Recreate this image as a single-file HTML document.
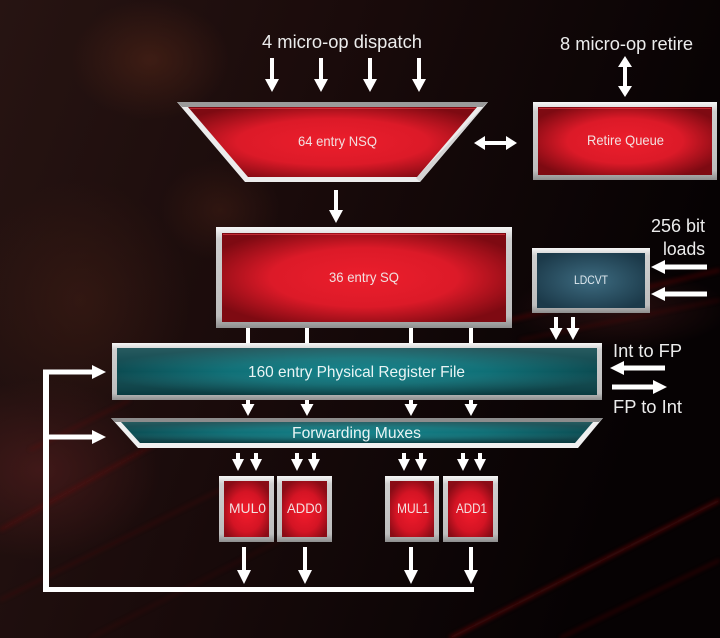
<!DOCTYPE html>
<html><head><meta charset="utf-8"><style>
html,body{margin:0;padding:0;background:#120808;}
svg{display:block;}
text{font-family:"Liberation Sans",sans-serif;}
</style></head><body>
<svg width="720" height="638" viewBox="0 0 720 638" xmlns="http://www.w3.org/2000/svg">
<defs>
<linearGradient id="bgL" x1="0" y1="0" x2="1" y2="0.3">
<stop offset="0" stop-color="#271412"/>
<stop offset="0.45" stop-color="#1a0b0b"/>
<stop offset="1" stop-color="#060203"/>
</linearGradient>
<radialGradient id="glow1" cx="0.5" cy="0.5" r="0.5">
<stop offset="0" stop-color="#4a2216" stop-opacity="0.7"/>
<stop offset="1" stop-color="#4a2216" stop-opacity="0"/>
</radialGradient>
<radialGradient id="glow2" cx="0.5" cy="0.5" r="0.5">
<stop offset="0" stop-color="#5a2020" stop-opacity="0.55"/>
<stop offset="1" stop-color="#5a2020" stop-opacity="0"/>
</radialGradient>
<filter id="blur2"><feGaussianBlur stdDeviation="2"/></filter>
<radialGradient id="red" cx="0.5" cy="0.5" r="0.6">
<stop offset="0" stop-color="#ec1e2c"/>
<stop offset="0.55" stop-color="#dc1a28"/>
<stop offset="1" stop-color="#7e0a12"/>
</radialGradient>
<radialGradient id="redU" cx="0.5" cy="0.55" r="0.6">
<stop offset="0" stop-color="#f21c2c"/>
<stop offset="0.6" stop-color="#d41424"/>
<stop offset="1" stop-color="#8a0c16"/>
</radialGradient>
<radialGradient id="teal" cx="0.5" cy="0.5" r="0.55">
<stop offset="0" stop-color="#13838b"/>
<stop offset="0.5" stop-color="#0f6f76"/>
<stop offset="1" stop-color="#0a444a"/>
</radialGradient>
<linearGradient id="tealV" x1="0" y1="0" x2="0" y2="1">
<stop offset="0" stop-color="#ffffff" stop-opacity="0.12"/>
<stop offset="0.5" stop-color="#ffffff" stop-opacity="0"/>
<stop offset="1" stop-color="#000000" stop-opacity="0.15"/>
</linearGradient>
<radialGradient id="blue" cx="0.5" cy="0.5" r="0.6">
<stop offset="0" stop-color="#3d6b80"/>
<stop offset="1" stop-color="#1c3a4a"/>
</radialGradient>
<linearGradient id="bevel" x1="0" y1="0" x2="0" y2="1">
<stop offset="0" stop-color="#f6f6f6"/>
<stop offset="0.12" stop-color="#cfcfcf"/>
<stop offset="0.88" stop-color="#bdbdbd"/>
<stop offset="1" stop-color="#8e8e8e"/>
</linearGradient>
</defs>

<!-- background -->
<rect width="720" height="638" fill="url(#bgL)"/>
<ellipse cx="150" cy="60" rx="80" ry="60" fill="url(#glow1)"/>
<ellipse cx="80" cy="300" rx="110" ry="120" fill="url(#glow1)" opacity="0.6"/>
<ellipse cx="40" cy="470" rx="120" ry="90" fill="url(#glow2)"/>
<ellipse cx="220" cy="210" rx="60" ry="50" fill="url(#glow1)" opacity="0.6"/>
<ellipse cx="620" cy="310" rx="110" ry="40" fill="url(#glow2)" opacity="0.7"/>
<g filter="url(#blur2)" stroke="#8a1010" fill="none">
<line x1="0" y1="530" x2="180" y2="430" stroke-width="3" opacity="0.35"/>
<line x1="0" y1="600" x2="240" y2="480" stroke-width="2" opacity="0.25"/>
<line x1="90" y1="638" x2="300" y2="530" stroke-width="2" opacity="0.18"/>
<line x1="450" y1="638" x2="720" y2="500" stroke-width="3" opacity="0.6"/>
<line x1="560" y1="638" x2="720" y2="560" stroke-width="2" opacity="0.4"/>
<line x1="510" y1="320" x2="720" y2="270" stroke-width="3" opacity="0.4"/>
<line x1="520" y1="340" x2="720" y2="300" stroke-width="2" opacity="0.3"/>
<line x1="30" y1="450" x2="130" y2="400" stroke-width="2" opacity="0.3"/>
</g>

<!-- top labels -->
<g fill="#ececec" font-size="18">
<text x="262" y="48" textLength="160" lengthAdjust="spacingAndGlyphs">4 micro-op dispatch</text>
<text x="560" y="50" textLength="133" lengthAdjust="spacingAndGlyphs">8 micro-op retire</text>
<text x="651" y="232" textLength="54" lengthAdjust="spacingAndGlyphs">256 bit</text>
<text x="663" y="255" textLength="42" lengthAdjust="spacingAndGlyphs">loads</text>
<text x="613" y="357" textLength="69" lengthAdjust="spacingAndGlyphs">Int to FP</text>
<text x="613" y="413" textLength="69" lengthAdjust="spacingAndGlyphs">FP to Int</text>
</g>

<!-- arrows -->
<g fill="#ffffff">
<polygon points="270,58 274,58 274,79 279,79 272,92 265,79 270,79"/>
<polygon points="319,58 323,58 323,79 328,79 321,92 314,79 319,79"/>
<polygon points="368,58 372,58 372,79 377,79 370,92 363,79 368,79"/>
<polygon points="417,58 421,58 421,79 426,79 419,92 412,79 417,79"/>
<polygon points="625,56 632,67 627,67 627,86 632,86 625,97 618,86 623,86 623,67 618,67"/>
<polygon points="474,143 485,136 485,141 506,141 506,136 517,143 506,150 506,145 485,145 485,150"/>
<polygon points="334,190 338,190 338,210 343,210 336,223 329,210 334,210"/>
<polygon points="651,267 665,260 665,264.5 707,264.5 707,269.5 665,269.5 665,274"/>
<polygon points="651,294 665,287 665,291.5 707,291.5 707,296.5 665,296.5 665,301"/>
<polygon points="554,317 558,317 558,328 562.5,328 556,340 549.5,328 554,328"/>
<polygon points="571,317 575,317 575,328 579.5,328 573,340 566.5,328 571,328"/>
<polygon points="610,368 624,361 624,365.5 665,365.5 665,370.5 624,370.5 624,375"/>
<polygon points="667,387 653,380 653,384.5 612,384.5 612,389.5 653,389.5 653,394"/>
<rect x="246" y="326" width="4" height="18"/>
<rect x="305" y="326" width="4" height="18"/>
<rect x="409" y="326" width="4" height="18"/>
<rect x="469" y="326" width="4" height="18"/>
<polygon points="246,399 250,399 250,404 254.5,404 248,416 241.5,404 246,404"/>
<polygon points="305,399 309,399 309,404 313.5,404 307,416 300.5,404 305,404"/>
<polygon points="409,399 413,399 413,404 417.5,404 411,416 404.5,404 409,404"/>
<polygon points="469,399 473,399 473,404 477.5,404 471,416 464.5,404 469,404"/>
<polygon points="236,453 240,453 240,459 244,459 238,471 232,459 236,459"/>
<polygon points="254,453 258,453 258,459 262,459 256,471 250,459 254,459"/>
<polygon points="295,453 299,453 299,459 303,459 297,471 291,459 295,459"/>
<polygon points="312,453 316,453 316,459 320,459 314,471 308,459 312,459"/>
<polygon points="402,453 406,453 406,459 410,459 404,471 398,459 402,459"/>
<polygon points="419,453 423,453 423,459 427,459 421,471 415,459 419,459"/>
<polygon points="461,453 465,453 465,459 469,459 463,471 457,459 461,459"/>
<polygon points="478,453 482,453 482,459 486,459 480,471 474,459 478,459"/>
<polygon points="242,547 246,547 246,570 251,570 244,584 237,570 242,570"/>
<polygon points="303,547 307,547 307,570 312,570 305,584 298,570 303,570"/>
<polygon points="409,547 413,547 413,570 418,570 411,584 404,570 409,570"/>
<polygon points="469,547 473,547 473,570 478,570 471,584 464,570 469,570"/>
<!-- feedback -->
<rect x="43" y="369.5" width="6" height="222.5"/>
<rect x="43" y="587" width="431" height="5"/>
<polygon points="43,369.5 92,369.5 92,365 106,372 92,379 92,374.5 43,374.5"/>
<polygon points="43,434.5 92,434.5 92,430 106,437 92,444 92,439.5 43,439.5"/>
</g>

<!-- NSQ -->
<polygon points="177,102 488,102 420,182 245,182" fill="#ececec"/>
<polygon points="177,102 488,102 483,107 182,107" fill="#9a9a9a"/>
<polygon points="488,102 420,182 416,178 483,107" fill="#d4d4d4"/>
<polygon points="188,107 477,107 417,177 248,177" fill="url(#red)"/>
<line x1="190" y1="108.5" x2="476" y2="108.5" stroke="#ff4a55" stroke-width="1" opacity="0.5"/>
<text x="298" y="146" font-size="14" fill="#f2e0e0" textLength="79" lengthAdjust="spacingAndGlyphs">64 entry NSQ</text>

<!-- Retire Queue -->
<rect x="533" y="102" width="184" height="78" fill="url(#bevel)"/>
<rect x="538" y="107" width="174" height="68" fill="url(#red)"/>
<line x1="539" y1="108.5" x2="711" y2="108.5" stroke="#ff4a55" stroke-width="1" opacity="0.5"/>
<text x="587" y="145" font-size="14" fill="#f2e0e0" textLength="77" lengthAdjust="spacingAndGlyphs">Retire Queue</text>

<!-- SQ -->
<rect x="216" y="227" width="296" height="101" fill="url(#bevel)"/>
<rect x="222" y="233" width="284" height="89" fill="url(#red)"/>
<line x1="223" y1="234.5" x2="505" y2="234.5" stroke="#ff4a55" stroke-width="1" opacity="0.5"/>
<text x="329" y="282" font-size="14" fill="#f2e0e0" textLength="70" lengthAdjust="spacingAndGlyphs">36 entry SQ</text>

<!-- LDCVT -->
<rect x="532" y="248" width="118" height="65" fill="url(#bevel)"/>
<rect x="537" y="253" width="108" height="55" fill="url(#blue)"/>
<text x="574" y="284" font-size="11.5" fill="#dfe8ee" textLength="34" lengthAdjust="spacingAndGlyphs">LDCVT</text>

<!-- PRF -->
<rect x="112" y="343" width="490" height="57" fill="url(#bevel)"/>
<rect x="117" y="348" width="480" height="47" fill="url(#teal)"/>
<rect x="117" y="348" width="480" height="47" fill="url(#tealV)"/>
<text x="248" y="377" font-size="16" fill="#eaf4f4" textLength="217" lengthAdjust="spacingAndGlyphs">160 entry Physical Register File</text>

<!-- Forwarding Muxes -->
<polygon points="111,418 603,418 578,448 138,448" fill="#f0f0f0"/>
<polygon points="111,418 603,418 599,422 115,422" fill="#8c8c8c"/>
<polygon points="121,422 593,422 575,443 140,443" fill="url(#teal)"/>
<polygon points="121,422 593,422 575,443 140,443" fill="url(#tealV)"/>
<text x="292" y="438" font-size="15.5" fill="#eaf4f4" textLength="129" lengthAdjust="spacingAndGlyphs">Forwarding Muxes</text>

<!-- Units -->
<g>
<rect x="219" y="476" width="55" height="66" fill="url(#bevel)"/>
<rect x="224" y="481" width="45" height="56" fill="url(#redU)"/>
<rect x="277" y="476" width="55" height="66" fill="url(#bevel)"/>
<rect x="282" y="481" width="45" height="56" fill="url(#redU)"/>
<rect x="385" y="476" width="54" height="66" fill="url(#bevel)"/>
<rect x="390" y="481" width="44" height="56" fill="url(#redU)"/>
<rect x="443" y="476" width="55" height="66" fill="url(#bevel)"/>
<rect x="448" y="481" width="45" height="56" fill="url(#redU)"/>
</g>
<g font-size="13.5" fill="#f2e0e0">
<text x="229" y="513" textLength="37" lengthAdjust="spacingAndGlyphs">MUL0</text>
<text x="287" y="513" textLength="35" lengthAdjust="spacingAndGlyphs">ADD0</text>
<text x="397" y="513" textLength="32" lengthAdjust="spacingAndGlyphs">MUL1</text>
<text x="456" y="513" textLength="31" lengthAdjust="spacingAndGlyphs">ADD1</text>
</g>
</svg>
</body></html>
